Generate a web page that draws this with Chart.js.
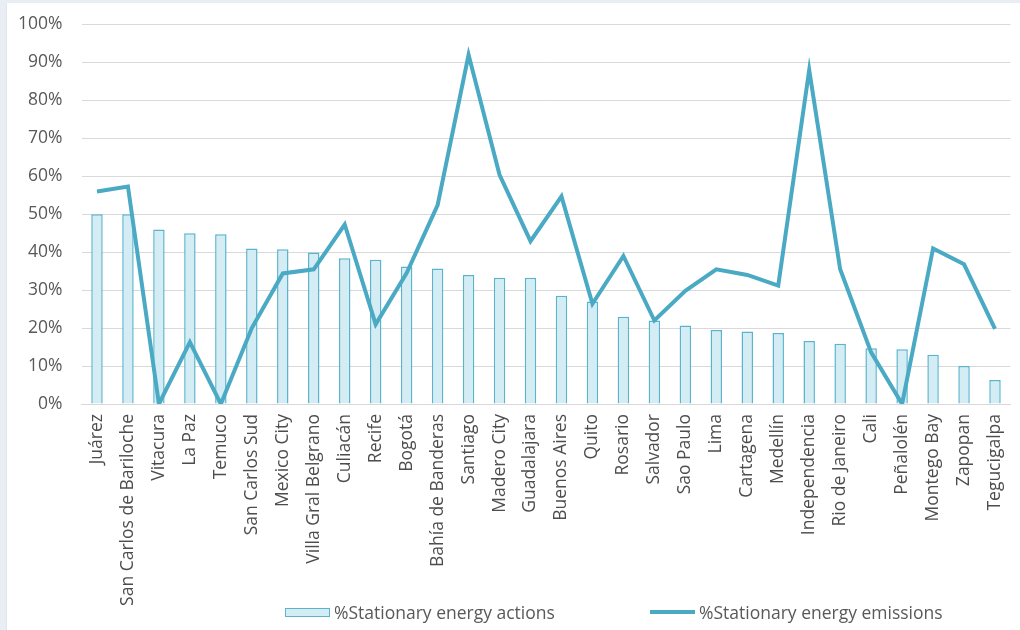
<!DOCTYPE html>
<html>
<head>
<meta charset="utf-8">
<script src="https://cdn.jsdelivr.net/npm/chart.js@4"></script>
<style>
    body { margin: 0; background: #ffffff; width: 1020px; height: 630px; position: relative; overflow: hidden; font-family: 'Open Sans', sans-serif; }
    #frame-left { position: absolute; left: 0; top: 0; width: 6px; height: 630px; background: #e9eef4; border-right: 1px solid #dfe5ec; z-index: 2; }
    #frame-top { position: absolute; left: 0; top: 0; width: 1020px; height: 3px; background: #e9eef4; z-index: 2; }
    #chart-box { position: absolute; left: 7px; top: -5px; width: 1019px; height: 635px; background: #ffffff; }
    #legend { position: absolute; top: 600px; left: 0; width: 1020px; height: 24px; color: #595959; font-size: 17.5px; }
    .leg-item { position: absolute; top: 0; height: 24px; display: flex; align-items: center; }
    .swatch-bar { width: 43px; height: 7px; background: #d4ecf4; border: 1px solid #5ab4cc; margin-right: 4px; }
    .swatch-line { width: 45px; height: 4px; background: #4aa9c3; margin-right: 4px; }
</style>
</head>
<body>
<div id="chart-box"><canvas id="chart"></canvas></div>
<div id="frame-left"></div>
<div id="frame-top"></div>
<div id="legend"></div>

<script>
// --------------------------------
// Data
// --------------------------------

const cities = [
    'Juárez', 'San Carlos de Bariloche', 'Vitacura', 'La Paz', 'Temuco',
    'San Carlos Sud', 'Mexico City', 'Villa Gral Belgrano', 'Culiacán', 'Recife',
    'Bogotá', 'Bahía de Banderas', 'Santiago', 'Madero City', 'Guadalajara',
    'Buenos Aires', 'Quito', 'Rosario', 'Salvador', 'Sao Paulo',
    'Lima', 'Cartagena', 'Medellín', 'Independencia', 'Rio de Janeiro',
    'Cali', 'Peñalolén', 'Montego Bay', 'Zapopan', 'Tegucigalpa'
];

const actions = [
    50, 50, 46, 45, 44.7,
    41, 40.8, 39.9, 38.4, 38,
    36.2, 35.7, 34, 33.3, 33.3,
    28.5, 27, 23, 22, 20.7,
    19.5, 19.1, 18.7, 16.6, 15.9,
    14.7, 14.4, 13, 10, 6.3
];

const emissions = [
    56, 57.3, 0, 16.3, 0,
    20, 34.4, 35.5, 47.3, 21,
    34.5, 52.4, 92, 60.4, 42.9,
    54.7, 26.4, 39, 22, 29.8,
    35.5, 34, 31.2, 88, 35.5,
    13.6, 0, 41, 36.8, 19.8
];

const yTicks = [0, 10, 20, 30, 40, 50, 60, 70, 80, 90, 100];

const actionsLabel = '%Stationary energy actions';
const emissionsLabel = '%Stationary energy emissions';

// --------------------------------
// Colours
// --------------------------------

const lineColor = '#4aa9c3';
const barFill = '#d4ecf4';
const barEdge = '#5ab4cc';
const gridColor = '#d9d9d9';
const textColor = '#595959';

// --------------------------------
// Legend (html, placed like the original)
// --------------------------------

const legend = document.getElementById('legend');
legend.innerHTML =
    '<div class="leg-item" style="left:285px"><div class="swatch-bar"></div><span>' + actionsLabel + '</span></div>' +
    '<div class="leg-item" style="left:650px"><div class="swatch-line"></div><span>' + emissionsLabel + '</span></div>';

// --------------------------------
// Chart
// --------------------------------

Chart.defaults.font.family = "'Open Sans', sans-serif";
Chart.defaults.font.size = 17.5;
Chart.defaults.color = textColor;

const chart = new Chart(document.getElementById('chart'), {
    type: 'bar',
    data: {
        labels: cities,
        datasets: [{
            type: 'line',
            label: emissionsLabel,
            data: emissions,
            borderColor: lineColor,
            borderWidth: 4,
            pointRadius: 0,
            tension: 0,
            order: 0
        }, {
            type: 'bar',
            label: actionsLabel,
            data: actions,
            backgroundColor: barFill,
            borderColor: barEdge,
            borderWidth: 1.5,
            categoryPercentage: 1,
            barPercentage: 0.37,
            order: 1
        }]
    },
    options: {
        responsive: true,
        maintainAspectRatio: false,
        animation: false,
        layout: {
            padding: { top: 9, right: 0, bottom: 0, left: 0 }
        },
        plugins: {
            legend: { display: false },
            tooltip: { enabled: false }
        },
        scales: {
            x: {
                grid: { display: false, drawTicks: false },
                border: { display: true, color: gridColor, width: 1 },
                ticks: {
                    autoSkip: false,
                    minRotation: 90,
                    maxRotation: 90,
                    padding: 10,
                    color: '#4d4d4d'
                },
                afterFit: function(scale) {
                    scale.height = 226;
                }
            },
            y: {
                min: 0,
                max: 100,
                afterBuildTicks: function(scale) {
                    scale.ticks = yTicks.map(v => ({ value: v }));
                },
                grid: { color: gridColor, lineWidth: 1, drawTicks: false },
                border: { display: false },
                ticks: {
                    padding: 19,
                    callback: function(v) {
                        return v + '%';
                    }
                },
                afterFit: function(scale) {
                    scale.width = 74.5;
                }
            }
        }
    }
});
</script>
</body>
</html>
